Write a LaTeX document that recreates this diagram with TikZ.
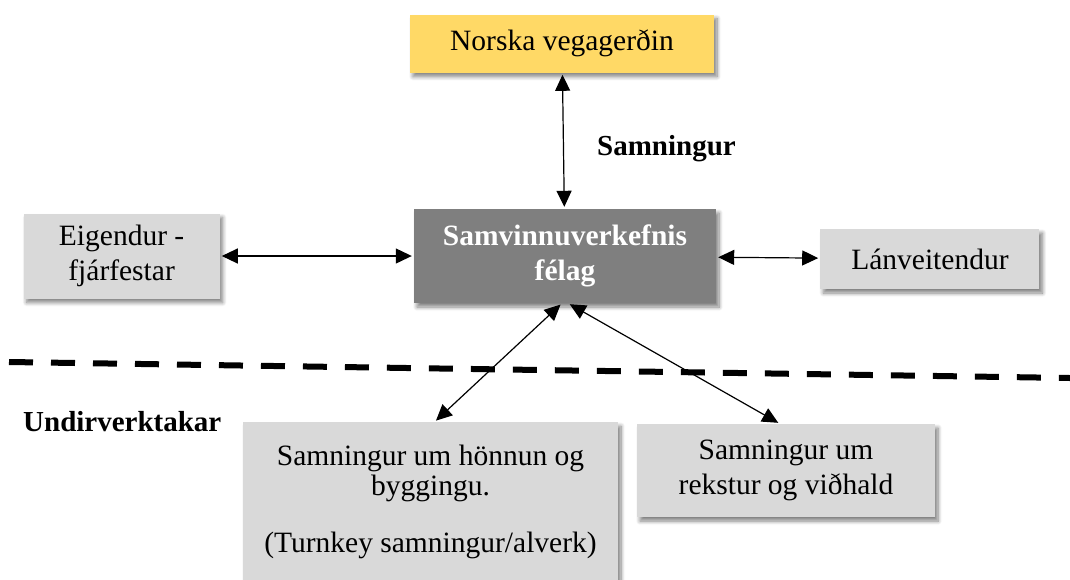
\documentclass[tikz,border=0pt]{standalone}
\usepackage{fontspec}
\setmainfont{Liberation Serif}
\usepackage{xcolor}
\usepackage{tikz}
\usetikzlibrary{positioning,arrows.meta,shadows.blur}

\definecolor{roadyellow}{HTML}{FFD966}
\definecolor{firmgray}{HTML}{7F7F7F}
\definecolor{partgray}{HTML}{D9D9D9}

\tikzset{
    boxshadow/.style={blur shadow={shadow xshift=3pt, shadow yshift=-4pt, shadow blur radius=4pt, shadow blur steps=8, shadow opacity=50}},
    party/.style={fill=partgray, boxshadow, align=center, inner sep=0pt, font=\fontsize{29.5}{35}\selectfont},
    link/.style={{Triangle[length=16pt,width=15pt]}-{Triangle[length=16pt,width=15pt]}, line width=1.2pt, shorten <=2pt, shorten >=2pt},
    divider/.style={line width=6pt, dash pattern=on 24pt off 18pt},
}

\begin{document}
\begin{tikzpicture}[x=1pt, y=-1pt]
    \useasboundingbox (0,0) rectangle (1070,579);

    \node [party, fill=firmgray, text=white, font=\fontsize{29.5}{35}\selectfont\bfseries, minimum width=302pt, minimum height=94pt] (felag) at (565,256) {Samvinnuverkefnis\\félag};

    \node [party, fill=roadyellow, above=136pt of felag, xshift=-3pt, minimum width=304pt, minimum height=58pt] (vegagerd) {Norska vegagerðin};
    \node [party, left=194pt of felag, minimum width=196pt, minimum height=85pt] (eigendur) {Eigendur -\\fjárfestar};
    \node [party, right=104pt of felag, yshift=-3pt, minimum width=219pt, minimum height=60pt] (lanveit) {Lánveitendur};

    \node [party, anchor=north, minimum width=375pt, minimum height=180pt] (honnun) at (430.5,422) {};
    \node [anchor=north, align=center, inner sep=0pt, font=\fontsize{29.5}{30}\selectfont] (honnuntext) at (430.5,444.5) {Samningur um hönnun og\\byggingu.\\[27pt](Turnkey samningur/alverk)};
    \node [party, minimum width=298pt, minimum height=93pt] (rekstur) at (786,470.5) {Samningur um\\rekstur og viðhald};

    \node [anchor=base west, inner sep=0pt, font=\fontsize{29}{34}\selectfont\bfseries] (samn) at (597,155) {Samningur};
    \node [anchor=base west, inner sep=0pt, font=\fontsize{29}{34}\selectfont\bfseries] (undir) at (23,431) {Undirverktakar};

    \draw[link] (vegagerd) -- (felag);
    \draw[link] (eigendur) -- (felag);
    \draw[link] (felag) -- (lanveit);
    \draw[link] ([xshift=-3pt]felag.south) -- ([xshift=4pt]honnun.north);
    \draw[link] ([xshift=3pt]felag.south) -- ([xshift=-6pt]rekstur.north);

    \draw[divider] (9,362) -- (1070,378);

\end{tikzpicture}
\end{document}
